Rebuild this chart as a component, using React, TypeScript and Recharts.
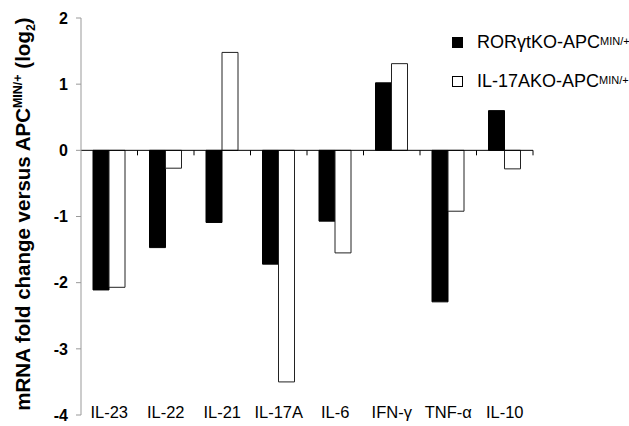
import React from 'react';
import { BarChart, Bar, XAxis, YAxis, ReferenceLine } from 'recharts';

const categories = ['IL-23', 'IL-22', 'IL-21', 'IL-17A', 'IL-6', 'IFN-γ', 'TNF-α', 'IL-10'];
const rorgtKO = [-2.11, -1.47, -1.09, -1.72, -1.07, 1.02, -2.29, 0.6];
const il17aKO = [-2.07, -0.27, 1.48, -3.5, -1.55, 1.31, -0.92, -0.28];
const yTicks = [-4, -3, -2, -1, 0, 1, 2];
const seriesNames = ['RORγtKO-APC', 'IL-17AKO-APC'];
const superscript = 'MIN/+';

const data = categories.map((c, i) => ({ name: c, ror: rorgtKO[i], il17: il17aKO[i] }));

const FONT = 'Liberation Sans, Arial, sans-serif';

const ZeroLine = (props: any) => {
  const { x1, x2, y1 } = props;
  const n = categories.length;
  const step = (x2 - x1) / n;
  const ticks = [];
  for (let i = 1; i <= n; i++) {
    const x = x1 + step * i;
    ticks.push(<line key={i} x1={x} x2={x} y1={y1} y2={y1 + 5} stroke="#000" strokeWidth={1} />);
  }
  return (
    <g>
      <line x1={x1} x2={x2} y1={y1} y2={y1} stroke="#000" strokeWidth={1} />
      {ticks}
    </g>
  );
};

const XTick = (props: any) => {
  const { x, y, payload } = props;
  return (
    <text x={x} y={y} dy={-9} textAnchor="middle" dominantBaseline="middle" fontFamily={FONT} fontSize={16.5} fill="#000">
      {payload.value}
    </text>
  );
};

const YLabel = () => {
  const cx = 30;
  const cy = 214;
  return (
    <text
      x={cx}
      y={cy}
      transform={`rotate(-90, ${cx}, ${cy})`}
      textAnchor="middle"
      fontFamily={FONT}
      fontSize={20.5}
      fontWeight="bold"
      fill="#000"
    >
      <tspan>mRNA fold change versus APC</tspan>
      <tspan fontSize={12.5} dy={-8}>{superscript}</tspan>
      <tspan dy={8}> (log</tspan>
      <tspan fontSize={12.5} dy={5}>2</tspan>
      <tspan dy={-5}>)</tspan>
    </text>
  );
};

const LegendOverlay = () => {
  const item = (fill: string, label: string, top: number) => (
    <div style={{ position: 'absolute', left: 452, top, display: 'flex', alignItems: 'center', whiteSpace: 'nowrap' }}>
      <div style={{ width: 9, height: 9, background: fill, border: '1px solid #000', marginRight: 14 }} />
      <span style={{ fontFamily: FONT, fontSize: 18, color: '#000', lineHeight: '20px' }}>
        {label}
        <sup style={{ fontSize: 11, verticalAlign: 'top', position: 'relative', top: -1 }}>{superscript}</sup>
      </span>
    </div>
  );
  return (
    <>
      {item('#000', seriesNames[0], 32)}
      {item('#fff', seriesNames[1], 71)}
    </>
  );
};

export default function App() {
  return (
    <div style={{ position: 'absolute', left: 0, top: 0, width: 629, height: 426, background: '#fff' }}>
      <BarChart
        width={629}
        height={426}
        data={data}
        margin={{ top: 18, right: 96, bottom: 0, left: 0 }}
        barSize={16}
        barGap={0}
      >
        <XAxis
          dataKey="name"
          axisLine={false}
          tickLine={false}
          height={11}
          tick={<XTick />}
          interval={0}
        />
        <YAxis
          width={81}
          domain={[-4, 2]}
          ticks={yTicks}
          interval={0}
          axisLine={{ stroke: '#999' }}
          tickLine={{ stroke: '#999' }}
          tickSize={5}
          tickMargin={8}
          tick={{ fontFamily: FONT, fontSize: 16, fontWeight: 'bold', fill: '#000' }}
          label={<YLabel />}
        />
        <ReferenceLine y={0} shape={<ZeroLine />} />
        <Bar dataKey="ror" name={seriesNames[0]} fill="#000" stroke="#000" isAnimationActive={false} />
        <Bar dataKey="il17" name={seriesNames[1]} fill="#fff" stroke="#222" isAnimationActive={false} />
      </BarChart>
      <LegendOverlay />
    </div>
  );
}
